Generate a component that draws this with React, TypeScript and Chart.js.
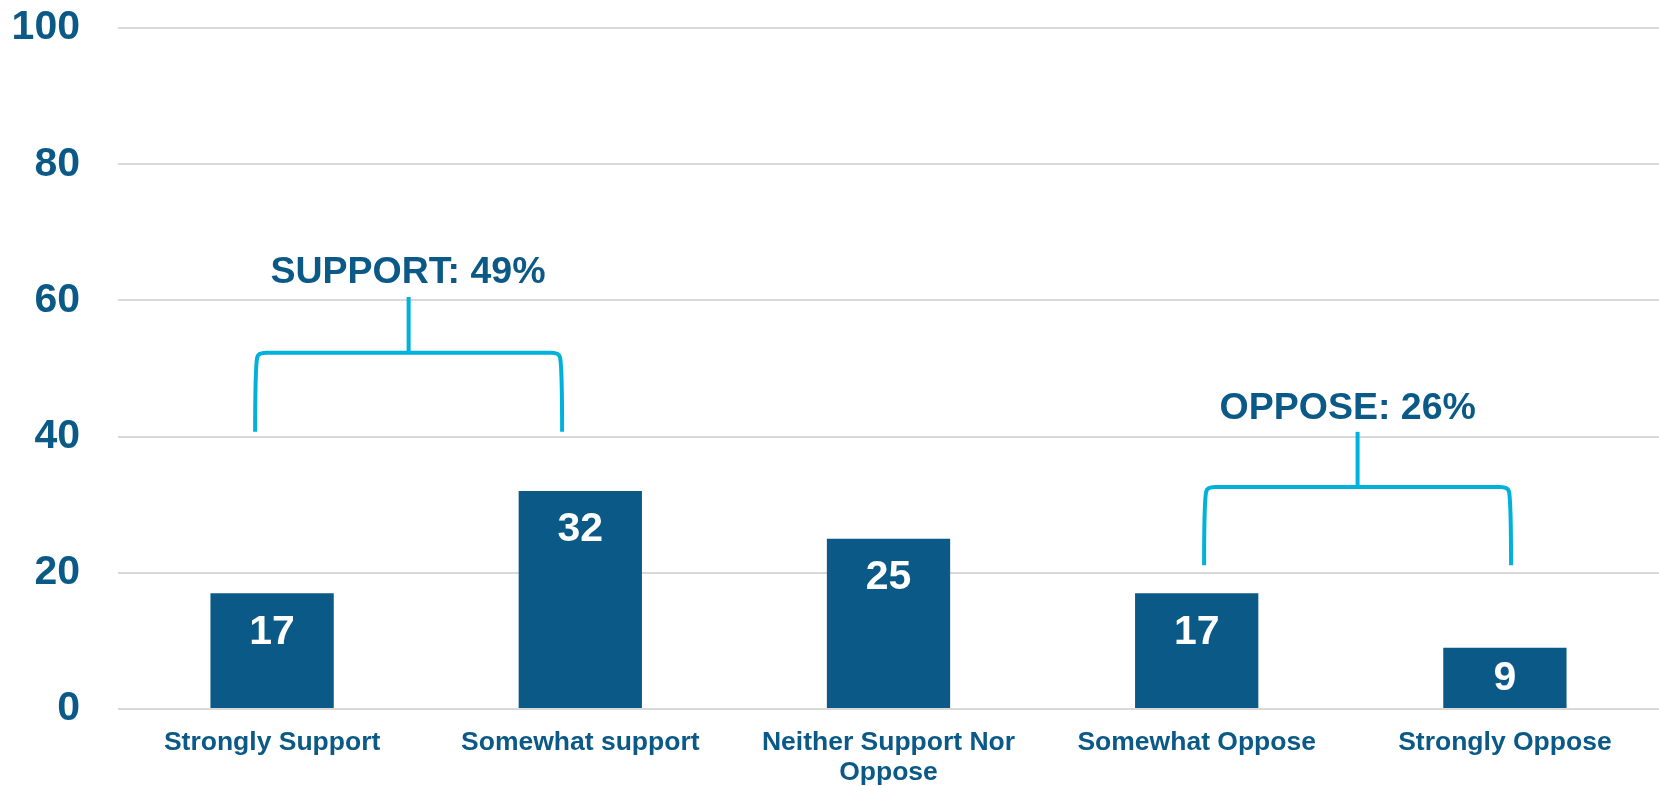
import React, { useEffect, useRef } from "react";
import { Chart, registerables } from "chart.js";

Chart.register(...registerables);

const categories: (string | string[])[] = [
  "Strongly Support",
  "Somewhat support",
  ["Neither Support Nor", "Oppose"],
  "Somewhat Oppose",
  "Strongly Oppose",
];
const values: number[] = [17, 32, 25, 17, 9];
const yTicks: number[] = [0, 20, 40, 60, 80, 100];

const groupLabels: string[] = ["SUPPORT: 49%", "OPPOSE: 26%"];

// bracket geometry in category-index / value units
const brackets = [
  { left: -0.055, right: 0.941, legBottom: 40.7, bar: 52.3, stemTop: 60.5, textX: 0.441, textY: 64.2 },
  { left: 3.024, right: 4.02, legBottom: 21.1, bar: 32.6, stemTop: 40.7, textX: 3.49, textY: 44.3 },
];

const FONT = "'Liberation Sans', Arial, Helvetica, sans-serif";
const NAVY = "#0A5986";
const CYAN = "#00B2DB";

const overlayPlugin = {
  id: "overlay",
  afterDatasetsDraw(chart: any) {
    const ctx = chart.ctx as CanvasRenderingContext2D;
    const xs = chart.scales.x;
    const ys = chart.scales.y;
    const meta = chart.getDatasetMeta(0);
    ctx.save();
    ctx.fillStyle = "#FFFFFF";
    ctx.font = `bold 41px ${FONT}`;
    ctx.textAlign = "center";
    ctx.textBaseline = "middle";
    meta.data.forEach((bar: any, i: number) => {
      const top = bar.y;
      const base = bar.base;
      const y = Math.min(top + 38, (top + base) / 2);
      ctx.fillText(String(values[i]), bar.x, y + 1);
    });
    ctx.restore();

    const x0 = xs.getPixelForValue(0);
    const step = xs.getPixelForValue(1) - x0;
    const px = (v: number) => x0 + v * step;

    brackets.forEach((b, i) => {
      const l = px(b.left);
      const r = px(b.right);
      const mid = (l + r) / 2;
      const yb = ys.getPixelForValue(b.legBottom);
      const yh = ys.getPixelForValue(b.bar);
      const yt = ys.getPixelForValue(b.stemTop);
      const rad = 8;
      ctx.save();
      ctx.strokeStyle = CYAN;
      ctx.lineWidth = 4;
      ctx.lineCap = "butt";
      ctx.beginPath();
      ctx.moveTo(l, yb);
      ctx.quadraticCurveTo(l, yh + rad * 2, l + 2, yh + rad * 0.6);
      ctx.quadraticCurveTo(l + 3, yh, l + rad + 3, yh);
      ctx.lineTo(r - rad - 3, yh);
      ctx.quadraticCurveTo(r - 3, yh, r - 2, yh + rad * 0.6);
      ctx.quadraticCurveTo(r, yh + rad * 2, r, yb);
      ctx.stroke();
      ctx.beginPath();
      ctx.moveTo(mid, yh);
      ctx.lineTo(mid, yt);
      ctx.stroke();
      ctx.restore();

      ctx.save();
      ctx.fillStyle = NAVY;
      ctx.font = `bold 37.5px ${FONT}`;
      ctx.textAlign = "center";
      ctx.textBaseline = "middle";
      ctx.fillText(groupLabels[i], px(b.textX), ys.getPixelForValue(b.textY) + 1);
      ctx.restore();
    });
  },
};

export default function App() {
  const canvasRef = useRef<HTMLCanvasElement | null>(null);

  useEffect(() => {
    document.body.style.margin = "0";
    const canvas = canvasRef.current;
    if (!canvas) return;
    const chart = new Chart(canvas, {
      type: "bar",
      data: {
        labels: categories as any,
        datasets: [
          {
            data: values,
            backgroundColor: NAVY,
            borderWidth: 0,
            categoryPercentage: 1,
            barPercentage: 0.4,
          },
        ],
      },
      options: {
        animation: false,
        responsive: true,
        maintainAspectRatio: false,
        layout: { padding: { top: 28, left: 0, right: 0, bottom: 0 } },
        plugins: {
          legend: { display: false },
          tooltip: { enabled: false },
          title: { display: false },
        },
        scales: {
          x: {
            grid: { display: false, drawTicks: false },
            border: { display: false },
            ticks: {
              color: NAVY,
              font: { family: FONT, size: 26.5, weight: "bold", lineHeight: 1.15 },
              padding: 18,
              maxRotation: 0,
              autoSkip: false,
            },
            afterFit: (scale: any) => {
              scale.height = 77;
              scale.paddingLeft = 0;
              scale.paddingRight = 0;
            },
          },
          y: {
            min: 0,
            max: 100,
            afterBuildTicks: (scale: any) => {
              scale.ticks = yTicks.map((v) => ({ value: v }));
            },
            grid: { color: "#D9D9D9", lineWidth: 2, drawTicks: false },
            border: { display: false },
            ticks: {
              color: NAVY,
              font: { family: FONT, size: 41, weight: "bold" },
              padding: 38,
            },
            afterFit: (scale: any) => {
              scale.width = 118;
              scale.paddingTop = 0;
              scale.paddingBottom = 0;
            },
          },
        },
      },
      plugins: [overlayPlugin],
    });
    return () => chart.destroy();
  }, []);

  return (
    <div style={{ width: "1659px", height: "786px", position: "relative" }}>
      <canvas ref={canvasRef} />
    </div>
  );
}
